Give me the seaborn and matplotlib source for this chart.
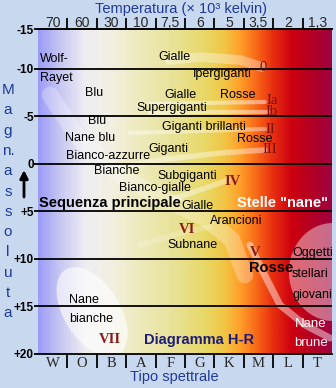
import numpy as np
import pandas as pd
import matplotlib
matplotlib.use("Agg")
import matplotlib.pyplot as plt
from matplotlib.colors import LinearSegmentedColormap
from matplotlib.patches import Ellipse
from matplotlib.transforms import ScaledTranslation
import seaborn as sns

# ---------------- data ----------------
SPECTRAL = ["W", "O", "B", "A", "F", "G", "K", "M", "L", "T"]
TEMPS = ["70", "60", "30", "10", "7,5", "6", "5", "3,5", "2", "1,3"]
MAG_TICKS = [-15, -10, -5, 0, 5, 10, 15, 20]
MAG_LABELS = ["-15", "-10", "-5", "0", "+5", "+10", "+15", "+20"]
GRID_MAGS = [-10, -5, 0, 5, 10, 15]
YLABEL_CHARS = ["M", "a", "g", "n.", "a", "s", "s", "o", "l", "u", "t", "a"]

# region labels: text, spectral position, magnitude, alignment, style
LABEL_TEXT = ["Wolf-", "Rayet", "Gialle", "Ipergiganti", "Blu", "Gialle", "Rosse",
              "Supergiganti", "Blu", "Giganti brillanti", "Rosse", "Nane blu",
              "Giganti", "Bianco-azzurre", "Bianche", "Subgiganti", "Bianco-gialle",
              "Sequenza principale", "Gialle", "Stelle \"nane\"", "Arancioni",
              "Subnane", "Rosse", "Oggetti", "stellari", "giovani", "Nane", "brune",
              "Nane", "bianche", "Diagramma H-R"]
LABEL_X = [-0.43, -0.43, 4.13, 5.76, 1.40, 4.33, 6.30,
           4.06, 1.51, 5.15, 6.88, 1.27,
           3.92, 1.88, 2.19, 4.57, 3.48,
           1.95, 4.91, 7.80, 6.23,
           4.77, 7.43, 8.14, 8.14, 8.14, 8.79, 8.79,
           0.55, 0.55, 4.98]
LABEL_Y = [-11.0, -9.0, -11.25, -9.46, -7.46, -7.25, -7.25,
           -5.88, -4.52, -3.89, -2.62, -2.73,
           -1.57, -0.83, 0.75, 1.27, 2.53,
           4.12, 4.43, 4.12, 6.0,
           8.53, 10.95, 9.37, 11.58, 13.8, 16.85, 18.85,
           14.32, 16.32, 18.5]
LABEL_HA = ["left", "left", "center", "center", "center", "center", "center",
            "center", "center", "center", "center", "center",
            "center", "center", "center", "center", "center",
            "center", "center", "center", "center",
            "center", "center", "left", "left", "left", "center", "center",
            "left", "left", "center"]
LABEL_STYLE = ["n", "n", "n", "n", "n", "n", "n",
               "n", "n", "n", "n", "n",
               "n", "n", "n", "n", "n",
               "b", "n", "w", "n",
               "n", "b", "n", "n", "n", "wn", "wn",
               "n", "n", "nav"]

# luminosity classes
CLASS_TEXT = ["0", "Ia", "Ib", "II", "III", "IV", "V", "VI", "VII"]
CLASS_X = [7.15, 7.46, 7.46, 7.39, 7.39, 6.13, 6.88, 4.57, 1.95]
CLASS_Y = [-10.1, -6.7, -5.5, -3.67, -1.57, 1.9, 9.37, 6.95, 18.5]
CLASS_BIG = [True, True, True, True, True, False, False, False, False]

# luminosity class bands (spectral position, magnitude)
BAND_0_X = [3.97, 5.01, 6.37, 7.12]
BAND_0_Y = [-10.94, -11.25, -10.94, -10.2]
BAND_IA_X = [3.31, 5.01, 7.22]
BAND_IA_Y = [-6.31, -6.41, -6.52]
BAND_IB_X = [3.31, 5.35, 7.32]
BAND_IB_Y = [-5.36, -5.47, -5.47]
BAND_II_X = [2.63, 5.01, 7.22]
BAND_II_Y = [-3.26, -3.47, -3.68]
BAND_III_X = [1.61, 3.65, 5.69, 7.22]
BAND_III_Y = [0.85, -0.42, -1.15, -1.47]
BAND_IV_X = [3.99, 5.01, 5.96]
BAND_IV_Y = [3.79, 2.74, 1.69]
BAND_V_X = [-0.09, 0.93, 2.29, 3.82, 5.18, 6.10, 6.54]
BAND_V_Y = [-7.25, -2.52, 1.16, 3.79, 5.69, 8.0, 11.69]
BAND_VL_X = [6.71, 7.12, 7.73, 8.58, 9.43]
BAND_VL_Y = [8.53, 11.16, 14.84, 16.95, 18.32]
BAND_VI_X = [2.97, 4.33, 5.35]
BAND_VI_Y = [8.53, 7.27, 6.64]

# white dwarfs / young stellar objects regions (centre)
WD_CENTER = (1.34, 15.58)
YSO_CENTER = (9.53, 11.37)

# ---------------- style ----------------
W_PX, H_PX = 336, 388
sns.set_theme(style="white")
plt.rcParams["font.family"] = ["Liberation Sans", "DejaVu Sans"]
SERIF = ["Liberation Serif", "DejaVu Serif"]
BG = "#c8d8ee"
BLUE = "#1f3a9c"
NAVY = "#1c1c78"
DARKRED = "#8b1a1a"
YTOP = -14.2

fig = plt.figure(figsize=(W_PX / 100, H_PX / 100), dpi=100, facecolor=BG)
ax = fig.add_axes([38 / W_PX, 34 / H_PX, 294 / W_PX, 325 / H_PX])
ax.set_facecolor("none")

stops = [(0.0, "#9c9cf8"), (0.075, "#c8c8f2"), (0.16, "#eeeef2"), (0.245, "#f2f0e2"),
         (0.347, "#eeeabc"), (0.466, "#e8e296"), (0.568, "#e8d866"), (0.636, "#f2c444"),
         (0.687, "#ffa02a"), (0.745, "#f86818"), (0.80, "#e83010"), (0.865, "#cc0010"),
         (0.93, "#b40022"), (1.0, "#a00040")]
cmap = LinearSegmentedColormap.from_list("hr", stops)
ax.imshow(np.linspace(0, 1, 600)[None, :], cmap=cmap, aspect="auto",
          extent=(-0.5, 9.5, 20, YTOP), zorder=0, interpolation="bilinear")

# regions
wd = Ellipse((0, 0), width=1.0, height=0.56, angle=-58, facecolor="white", alpha=0.6,
             edgecolor="none", zorder=1,
             transform=fig.dpi_scale_trans + ScaledTranslation(*WD_CENTER, ax.transData))
ax.add_patch(wd)
yso = Ellipse((0, 0), width=0.88, height=0.98, angle=0, facecolor="white", alpha=0.42,
              edgecolor="none", zorder=1,
              transform=fig.dpi_scale_trans + ScaledTranslation(*YSO_CENTER, ax.transData))
ax.add_patch(yso)

bands = [(BAND_V_X, BAND_V_Y, 12, 0.28), (BAND_VL_X, BAND_VL_Y, 5, 0.45),
         (BAND_0_X, BAND_0_Y, 7, 0.35), (BAND_IA_X, BAND_IA_Y, 3, 0.45),
         (BAND_IB_X, BAND_IB_Y, 3, 0.45), (BAND_II_X, BAND_II_Y, 3, 0.4),
         (BAND_III_X, BAND_III_Y, 4, 0.4), (BAND_IV_X, BAND_IV_Y, 4, 0.4),
         (BAND_VI_X, BAND_VI_Y, 4, 0.2)]
for bx, by, lw, al in bands:
    df = pd.DataFrame({"x": bx, "y": by})
    sns.lineplot(data=df, x="x", y="y", sort=False, estimator=None, ax=ax,
                 color="white", lw=lw, alpha=al, solid_capstyle="round", zorder=2)

for m in GRID_MAGS:
    ax.axhline(m, color="black", lw=1.3, zorder=3)

ax.set_xlim(-0.5, 9.5)
ax.set_ylim(20, YTOP)
ax.set_xlabel("")
ax.set_ylabel("")

# spines
for s in ["left", "right"]:
    ax.spines[s].set_visible(False)
for s in ["top", "bottom"]:
    ax.spines[s].set_visible(True)
    ax.spines[s].set_color("black")
    ax.spines[s].set_linewidth(1.3)

# y ticks
ax.set_yticks([max(m, YTOP) for m in MAG_TICKS], labels=MAG_LABELS)
ax.tick_params(axis="y", left=True, length=3, width=1.3, color="black", pad=0,
               labelsize=8.5, labelcolor="black")
for t in ax.get_yticklabels():
    t.set_fontweight("bold")

# bottom: spectral classes
ax.set_xticks(range(len(SPECTRAL)), labels=SPECTRAL)
ax.set_xticks(np.arange(0.5, len(SPECTRAL) - 1, 1.0), minor=True)
ax.tick_params(axis="x", which="major", bottom=True, length=0, pad=2.5, labelsize=10.5)
ax.tick_params(axis="x", which="minor", bottom=True, length=10, width=1.3, color="black",
               direction="out")
for t in ax.get_xticklabels():
    t.set_fontfamily(SERIF)

# top: temperatures
sec = ax.secondary_xaxis("top")
sec.set_xticks(range(len(TEMPS)), labels=TEMPS)
sec.set_xticks(np.arange(0.5, len(TEMPS) - 1, 1.0), minor=True)
sec.tick_params(axis="x", which="major", length=0, pad=-1, labelsize=10)
sec.tick_params(axis="x", which="minor", length=8, width=1.3, color="black", direction="out")
sec.spines["top"].set_linewidth(1.3)

# labels inside
styles = {
    "n": dict(color="black", fontsize=9),
    "b": dict(color="black", fontsize=10.5, fontweight="bold"),
    "w": dict(color="white", fontsize=10.5, fontweight="bold"),
    "wn": dict(color="white", fontsize=9.5),
    "nav": dict(color=NAVY, fontsize=10.5, fontweight="bold"),
}
for txt, x, y, ha, st in zip(LABEL_TEXT, LABEL_X, LABEL_Y, LABEL_HA, LABEL_STYLE):
    ax.text(x, y, txt, ha=ha, va="center", zorder=5, **styles[st])

for txt, x, y, big in zip(CLASS_TEXT, CLASS_X, CLASS_Y, CLASS_BIG):
    if big:
        ax.text(x, y, txt, ha="center", va="center", color="#781010", fontsize=10.5,
                family=SERIF, zorder=5)
    else:
        ax.text(x, y, txt, ha="center", va="center", color=DARKRED, fontsize=10.5,
                fontweight="bold", family=SERIF, zorder=5)

# axis titles
fig.text(181 / W_PX, 1 - 9 / H_PX, "Temperatura (× 10³ kelvin)", ha="center", va="center",
         color=BLUE, fontsize=10.5)
fig.text(174 / W_PX, 1 - 377 / H_PX, "Tipo spettrale", ha="center", va="center",
         color=BLUE, fontsize=10.5)
for i, ch in enumerate(YLABEL_CHARS):
    fig.text(8 / W_PX, 1 - (90 + 20.3 * i) / H_PX, ch, ha="center", va="center",
             color=BLUE, fontsize=11)
ax.annotate("", xy=(24, H_PX - 170), xytext=(24, H_PX - 197), xycoords="figure pixels",
            textcoords="figure pixels", annotation_clip=False,
            arrowprops=dict(arrowstyle="-|>", lw=2, color="black", mutation_scale=12,
                            shrinkA=0, shrinkB=0))

fig.savefig("out.png", dpi=100, facecolor=BG)
